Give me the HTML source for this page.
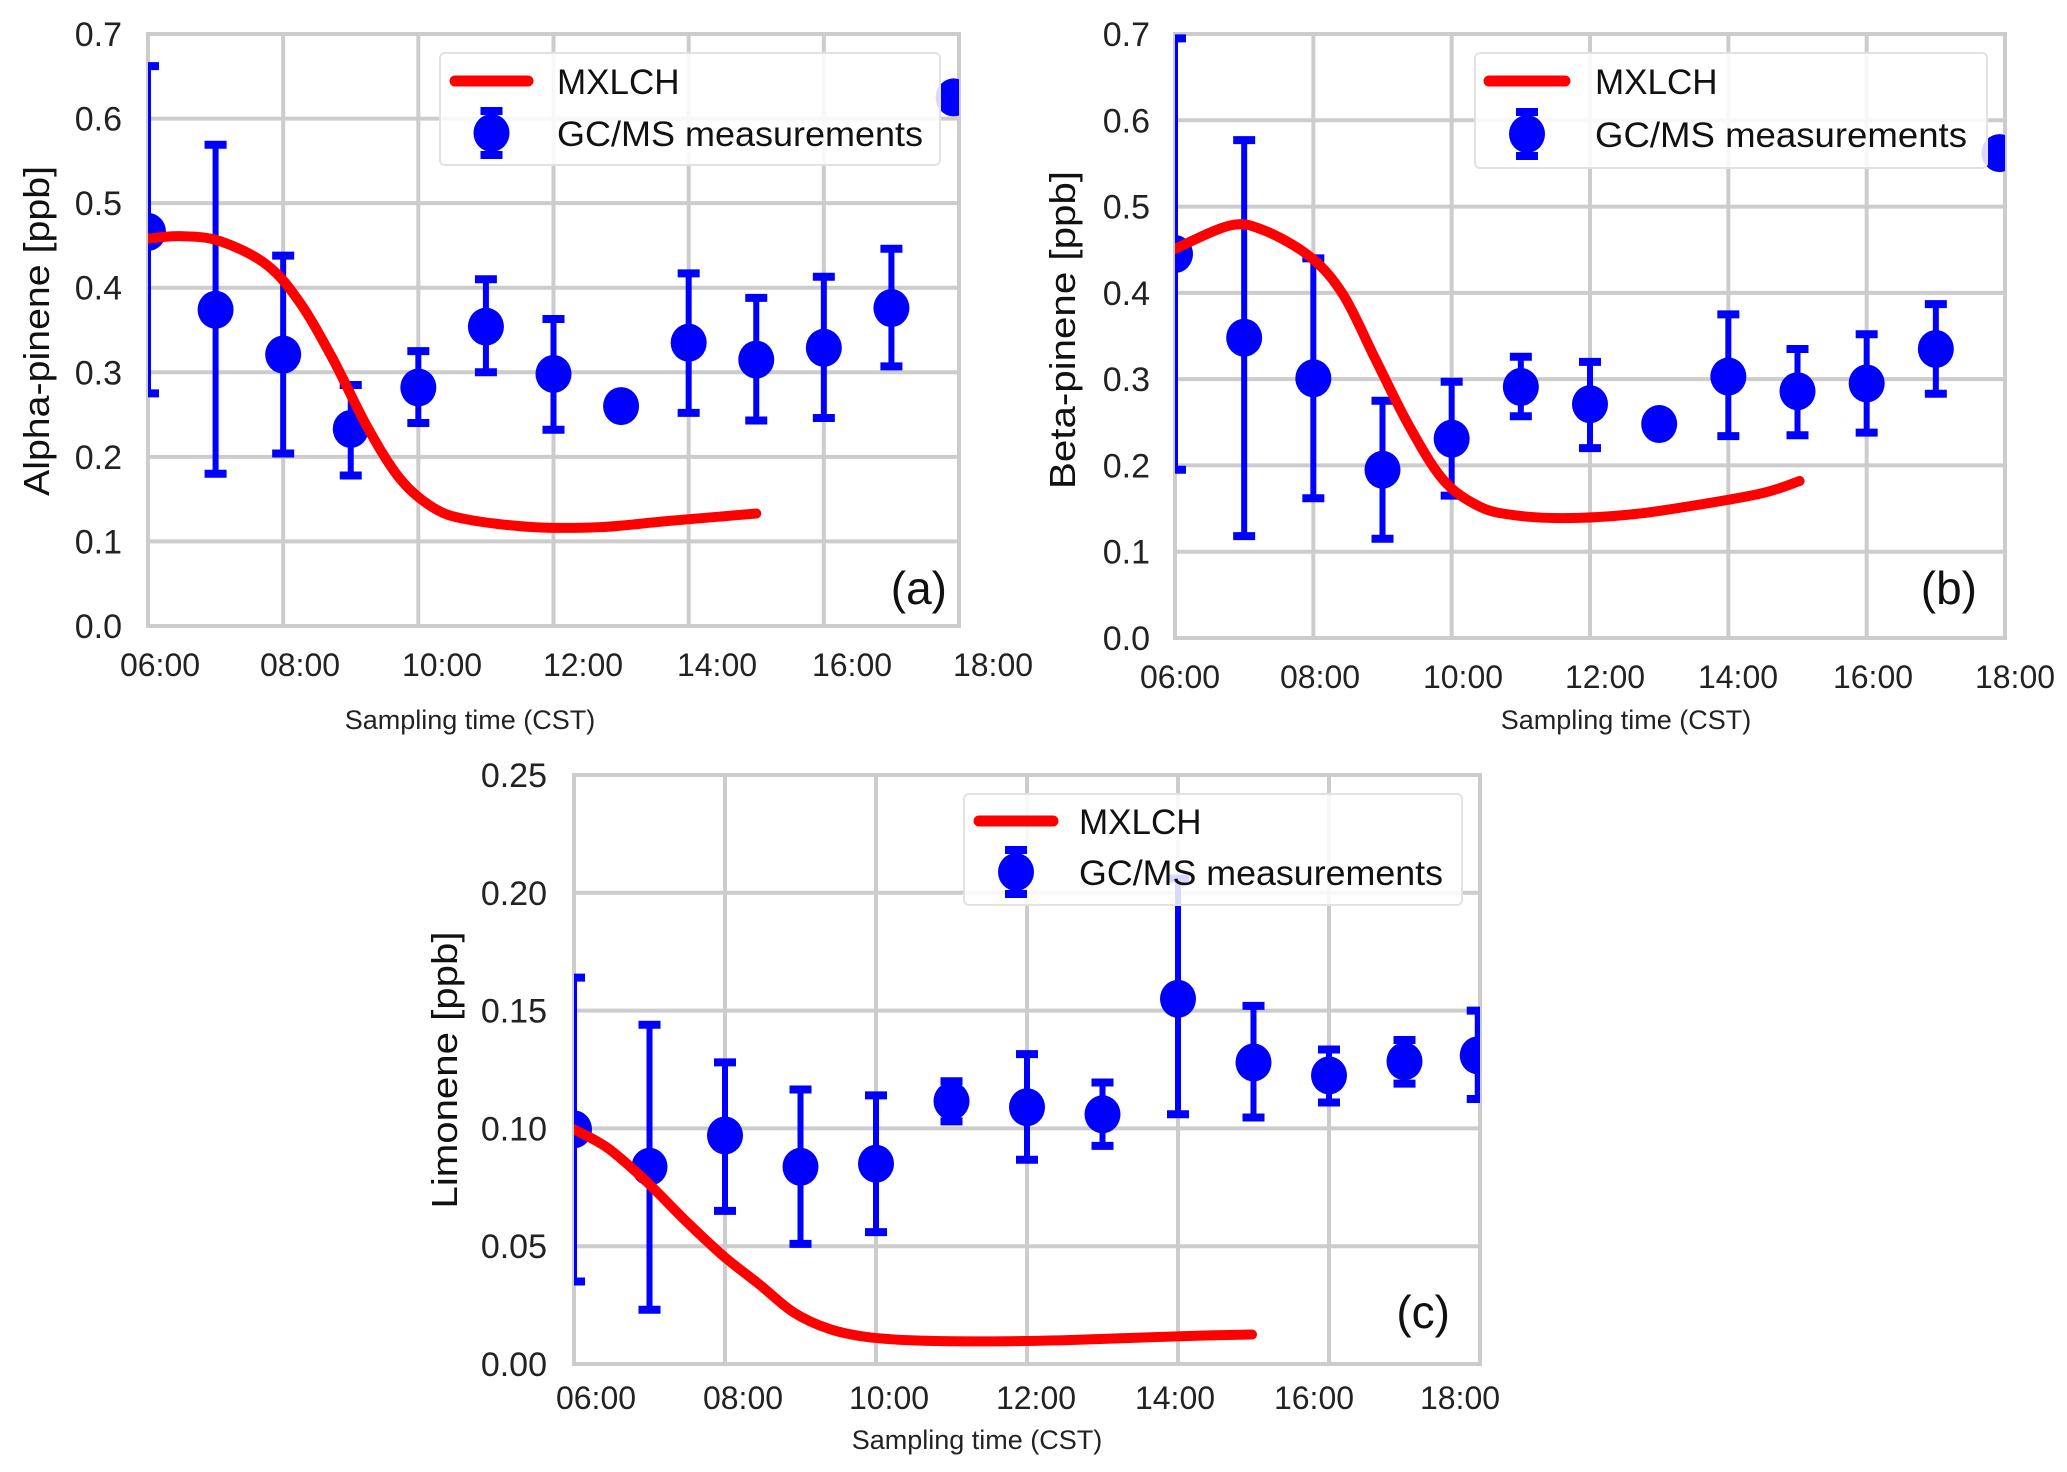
<!DOCTYPE html>
<html><head><meta charset="utf-8"><style>
html,body{margin:0;padding:0;background:#fff;}
svg{display:block;font-family:"Liberation Sans",Arial,sans-serif;}
</style></head><body>
<svg id="fig" width="2067" height="1472" viewBox="0 0 2067 1472" xmlns="http://www.w3.org/2000/svg"></svg>
<script>
// ---- Panel (a) data ----
const aHours = [6,7,8,9,10,11,12,13,14,15,16,17,17.92];
const aVals  = [0.466,0.374,0.321,0.233,0.282,0.354,0.298,0.260,0.335,0.315,0.329,0.376,0.625];
const aHi    = [0.662,0.569,0.438,0.285,0.325,0.410,0.363,0.260,0.417,0.388,0.413,0.446,0.625];
const aLo    = [0.275,0.180,0.204,0.178,0.240,0.300,0.232,0.260,0.252,0.243,0.246,0.307,0.625];
const aModelH = [6,6.47,7.07,7.76,8.25,8.74,9.24,9.73,10.22,10.72,11.7,12.7,13.67,15.0];
const aModelV = [0.458,0.461,0.455,0.427,0.382,0.315,0.236,0.174,0.140,0.126,0.117,0.117,0.124,0.133];
const aYTicks = ["0.0","0.1","0.2","0.3","0.4","0.5","0.6","0.7"];
// ---- Panel (b) data ----
const bHours = [6,7,8,9,10,11,12,13,14,15,16,17,17.92];
const bVals  = [0.445,0.348,0.301,0.195,0.231,0.291,0.271,0.248,0.303,0.286,0.295,0.335,0.562];
const bHi    = [0.695,0.577,0.440,0.275,0.297,0.326,0.320,0.248,0.375,0.335,0.352,0.387,0.562];
const bLo    = [0.195,0.118,0.162,0.115,0.165,0.257,0.220,0.248,0.234,0.235,0.238,0.283,0.562];
const bModelH = [6,6.79,7.27,7.95,8.43,8.91,9.39,9.87,10.36,10.84,11.61,12.57,13.54,14.5,15.03];
const bModelV = [0.451,0.478,0.473,0.442,0.398,0.321,0.245,0.184,0.154,0.143,0.139,0.143,0.154,0.168,0.182];
const bYTicks = ["0.0","0.1","0.2","0.3","0.4","0.5","0.6","0.7"];
// ---- Panel (c) data ----
const cHours = [6,7,8,9,10,11,12,13,14,15,16,17,17.97];
const cVals  = [0.0996,0.0837,0.097,0.0837,0.085,0.1116,0.109,0.106,0.155,0.128,0.1225,0.1285,0.131];
const cHi    = [0.164,0.144,0.128,0.1165,0.114,0.120,0.1315,0.1195,0.206,0.152,0.1335,0.1375,0.150];
const cLo    = [0.035,0.023,0.065,0.051,0.056,0.103,0.0867,0.0926,0.106,0.1046,0.111,0.119,0.1125];
const cModelH = [6,6.45,6.95,7.51,7.98,8.45,8.91,9.38,9.85,10.5,11.43,12.37,13.3,14.24,14.98];
const cModelV = [0.0996,0.0916,0.0777,0.0598,0.0458,0.0339,0.0219,0.0149,0.0116,0.0100,0.0096,0.0100,0.011,0.012,0.0125];
const cYTicks = ["0.00","0.05","0.10","0.15","0.20","0.25"];
const xTickLabels = ["06:00","08:00","10:00","12:00","14:00","16:00","18:00"];

const NS="http://www.w3.org/2000/svg";
const svg=document.getElementById('fig');
function mk(tag,attrs,parent){const e=document.createElementNS(NS,tag);for(const k in attrs)e.setAttribute(k,attrs[k]);(parent||svg).appendChild(e);return e;}

function smoothPath(pts){
  let d='M'+pts[0][0].toFixed(1)+','+pts[0][1].toFixed(1);
  for(let i=0;i<pts.length-1;i++){
    const p0=pts[Math.max(0,i-1)],p1=pts[i],p2=pts[i+1],p3=pts[Math.min(pts.length-1,i+2)];
    const c1=[p1[0]+(p2[0]-p0[0])/6,p1[1]+(p2[1]-p0[1])/6];
    const c2=[p2[0]-(p3[0]-p1[0])/6,p2[1]-(p3[1]-p1[1])/6];
    d+='C'+c1[0].toFixed(1)+','+c1[1].toFixed(1)+' '+c2[0].toFixed(1)+','+c2[1].toFixed(1)+' '+p2[0].toFixed(1)+','+p2[1].toFixed(1);
  }
  return d;
}

function panel(cfg){
  const g=mk('g',{});
  
  
  const L=cfg.L,R=cfg.R,T=cfg.T,B=cfg.B;
  const xs=h=>L+(h-6)/12*(R-L);
  const ys=v=>B-v/cfg.ymax*(B-T);
  for(let i=0;i<cfg.yTicks.length;i++){
    const v=parseFloat(cfg.yTicks[i]);const y=ys(v);
    const ln=mk('line',{x1:L,x2:R,y1:y,y2:y,stroke:'#cccccc','stroke-width':4},g);
    
    
    const t=mk('text',{x:cfg.yLabRight,y:y+12,'text-anchor':'end','font-size':34,fill:'#222'},g);
    
    
    t.textContent=cfg.yTicks[i];
  }
  for(let i=0;i<xTickLabels.length;i++){
    const h=6+2*i;const x=xs(h);
    const ln=mk('line',{x1:x,x2:x,y1:T,y2:B,stroke:'#cccccc','stroke-width':4},g);
    
    
    const t=mk('text',{x:cfg.xLabX[i],y:cfg.xLabY+12,'text-anchor':'middle','font-size':32,fill:'#222'},g);
    
    
    t.textContent=xTickLabels[i];
  }
  const fr=mk('rect',{x:L,y:T,width:R-L,height:B-T,fill:'none',stroke:'#cccccc','stroke-width':4},g);
  
  
  const cp=mk('clipPath',{id:'clip'+cfg.id},g);
  mk('rect',{x:L,y:T,width:R-L,height:B-T},cp);
  const dg=mk('g',{'clip-path':'url(#clip'+cfg.id+')'},g);
  
  
  for(let i=0;i<cfg.hours.length;i++){
    const x=xs(cfg.hours[i]);
    if(cfg.hi[i]-cfg.lo[i]>0.0001){
      const e=mk('line',{x1:x,x2:x,y1:ys(cfg.hi[i]),y2:ys(cfg.lo[i]),stroke:'#0000ff','stroke-width':6},dg);
      
      
      for(const v of [cfg.hi[i],cfg.lo[i]]){
        const c=mk('line',{x1:x-11,x2:x+11,y1:ys(v),y2:ys(v),stroke:'#0000ff','stroke-width':8},dg);
        
        
      }
    }
    const p=mk('ellipse',{cx:x,cy:ys(cfg.vals[i]),rx:18,ry:19,fill:'#0000ff'},dg);
    
    
  }
  const pts=cfg.mh.map((h,i)=>[xs(h),ys(cfg.mv[i])]);
  const ml=mk('path',{d:smoothPath(pts),fill:'none',stroke:'#ff0000','stroke-width':10,'stroke-linecap':'round','stroke-linejoin':'round'},dg);
  
  
  const yl=mk('text',{x:0,y:0,'text-anchor':'middle','font-size':36,fill:'#111',transform:'translate('+(cfg.yTitleX+12)+','+cfg.yTitleY+') rotate(-90)',textLength:cfg.yTitleLen,lengthAdjust:'spacingAndGlyphs'},g);
  
  
  yl.textContent=cfg.yTitle;
  const xl=mk('text',{x:cfg.xTitleX,y:cfg.xTitleY+10,'text-anchor':'middle','font-size':27,fill:'#222'},g);
  
  
  xl.textContent='Sampling time (CST)';
  const pl=mk('text',{x:cfg.tagX,y:cfg.tagY+16,'text-anchor':'end','font-size':46,fill:'#111'},g);
  
  
  pl.textContent='('+cfg.id+')';
  const lg=mk('g',{},g);
  
  
  const lb=cfg.leg;
  mk('rect',{x:lb.x,y:lb.y,width:lb.w,height:lb.h,rx:5,fill:'#fff','fill-opacity':0.85,stroke:'#e2e2e2','stroke-width':2},lg);
  const le1=mk('line',{x1:lb.lx1,x2:lb.lx2,y1:lb.y1,y2:lb.y1,stroke:'#ff0000','stroke-width':11,'stroke-linecap':'round'},lg);
  
  
  const mx=(lb.lx1+lb.lx2)/2;
  mk('line',{x1:mx,x2:mx,y1:lb.y2-22,y2:lb.y2+22,stroke:'#0000ff','stroke-width':6},lg);
  mk('line',{x1:mx-11,x2:mx+11,y1:lb.y2-22,y2:lb.y2-22,stroke:'#0000ff','stroke-width':8},lg);
  mk('line',{x1:mx-11,x2:mx+11,y1:lb.y2+22,y2:lb.y2+22,stroke:'#0000ff','stroke-width':8},lg);
  const le2=mk('ellipse',{cx:mx,cy:lb.y2,rx:18,ry:19,fill:'#0000ff'},lg);
  
  
  const t1=mk('text',{x:lb.tx,y:lb.y1+13,'font-size':35,fill:'#111'},lg);
  
  
  t1.textContent='MXLCH';
  const t2=mk('text',{x:lb.tx,y:lb.y2+13,'font-size':35,fill:'#111',textLength:lb.tl,lengthAdjust:'spacingAndGlyphs'},lg);
  
  
  t2.textContent='GC/MS measurements';
}

panel({id:'a',L:148,R:959,T:34,B:626,ymax:0.7,yTicks:aYTicks,yLabRight:122,
  xLabX:[160,300,442,583,717,852,993],xLabY:664,
  hours:aHours,vals:aVals,hi:aHi,lo:aLo,mh:aModelH,mv:aModelV,
  yTitle:'Alpha-pinene [ppb]',yTitleX:37,yTitleY:331,yTitleLen:330,xTitleX:470,xTitleY:719,
  tagX:947,tagY:588,
  leg:{x:440,y:53,w:500,h:112,lx1:455,lx2:528,tx:557,y1:81,y2:133,tl:366}});
panel({id:'b',L:1175,R:2005,T:34,B:638,ymax:0.7,yTicks:bYTicks,yLabRight:1150,
  xLabX:[1180,1320,1463,1605,1738,1873,2015],xLabY:676,
  hours:bHours,vals:bVals,hi:bHi,lo:bLo,mh:bModelH,mv:bModelV,
  yTitle:'Beta-pinene [ppb]',yTitleX:1063,yTitleY:330,yTitleLen:318,xTitleX:1626,xTitleY:719,
  tagX:1977,tagY:588,
  leg:{x:1475,y:53,w:512,h:115,lx1:1489,lx2:1565,tx:1595,y1:81,y2:134,tl:372}});
panel({id:'c',L:574,R:1480,T:775,B:1364,ymax:0.25,yTicks:cYTicks,yLabRight:547,
  xLabX:[596,743,889,1036,1175,1314,1460],xLabY:1397,
  hours:cHours,vals:cVals,hi:cHi,lo:cLo,mh:cModelH,mv:cModelV,
  yTitle:'Limonene [ppb]',yTitleX:445,yTitleY:1070,yTitleLen:277,xTitleX:977,xTitleY:1439,
  tagX:1450,tagY:1312,
  leg:{x:964,y:794,w:498,h:111,lx1:979,lx2:1053,tx:1079,y1:821,y2:872,tl:364}});
</script>
</body></html>
